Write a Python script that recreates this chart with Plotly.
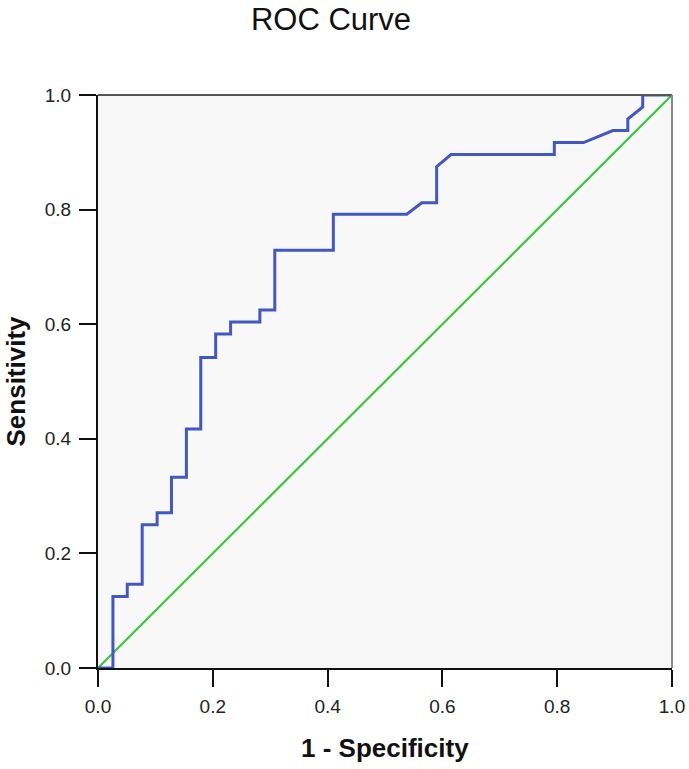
import plotly.graph_objects as go

# ROC curve vertices (1 - specificity, sensitivity)
fpr = [0.0, 0.026, 0.026, 0.051, 0.051, 0.077, 0.077, 0.103, 0.103, 0.128, 0.128,
       0.154, 0.154, 0.179, 0.179, 0.205, 0.205, 0.231, 0.231, 0.282, 0.282,
       0.308, 0.308, 0.410, 0.410, 0.538, 0.564, 0.590, 0.590, 0.615, 0.795,
       0.795, 0.846, 0.897, 0.923, 0.923, 0.949, 0.949, 1.0]
tpr = [0.0, 0.0, 0.125, 0.125, 0.146, 0.146, 0.250, 0.250, 0.271, 0.271, 0.333,
       0.333, 0.417, 0.417, 0.542, 0.542, 0.583, 0.583, 0.604, 0.604, 0.625,
       0.625, 0.729, 0.729, 0.792, 0.792, 0.812, 0.812, 0.875, 0.896, 0.896,
       0.917, 0.917, 0.938, 0.938, 0.958, 0.979, 1.0, 1.0]

ref_x = [0.0, 1.0]
ref_y = [0.0, 1.0]

tick_vals = [0.0, 0.2, 0.4, 0.6, 0.8, 1.0]
tick_text = ["0.0", "0.2", "0.4", "0.6", "0.8", "1.0"]

FONT = "Liberation Sans, Arial, sans-serif"

fig = go.Figure()
fig.add_trace(go.Scatter(x=ref_x, y=ref_y, mode="lines",
                         line=dict(color="#3cc43c", width=2.2), showlegend=False,
                         hoverinfo="skip"))
fig.add_trace(go.Scatter(x=fpr, y=tpr, mode="lines",
                         line=dict(color="#4258c0", width=3), showlegend=False))

axis_common = dict(
    range=[0, 1], tickvals=tick_vals, ticktext=tick_text,
    ticks="outside", ticklen=17, tickwidth=2, tickcolor="#111",
    showline=True, linecolor="#111", linewidth=2, mirror=False,
    showgrid=False, zeroline=False,
    tickfont=dict(family=FONT, size=19, color="#222"),
)

fig.update_layout(
    width=689, height=769,
    margin=dict(l=98, r=17, t=95, b=101, autoexpand=False),
    paper_bgcolor="white", plot_bgcolor="#f8f8f8",
    title=dict(text="ROC Curve", x=331/689, xref="container", xanchor="center",
               y=1 - 19/769, yref="container", yanchor="middle",
               font=dict(family=FONT, size=31, color="#111")),
    xaxis=dict(**axis_common, ticklabelstandoff=3),
    yaxis=dict(**axis_common, ticklabelstandoff=4),
    annotations=[
        dict(text="<b>1 - Specificity</b>", xref="paper", yref="paper",
             x=0.5, y=(668 - 748) / 573, xanchor="center", yanchor="middle",
             showarrow=False, font=dict(family=FONT, size=26, color="#111")),
        dict(text="<b>Sensitivity</b>", xref="paper", yref="paper",
             x=(15 - 98) / 574, y=0.5, xanchor="center", yanchor="middle",
             textangle=-90, showarrow=False,
             font=dict(family=FONT, size=26, color="#111")),
    ],
    shapes=[
        dict(type="line", xref="paper", yref="paper", x0=0, x1=1, y0=1, y1=1,
             line=dict(color="#555", width=2)),
        dict(type="line", xref="paper", yref="paper", x0=1, x1=1, y0=0, y1=1,
             line=dict(color="#888", width=2)),
    ],
)

fig.write_html("out.html", config={"displayModeBar": False},
               post_script="document.body.style.margin='0';document.body.style.padding='0';")
